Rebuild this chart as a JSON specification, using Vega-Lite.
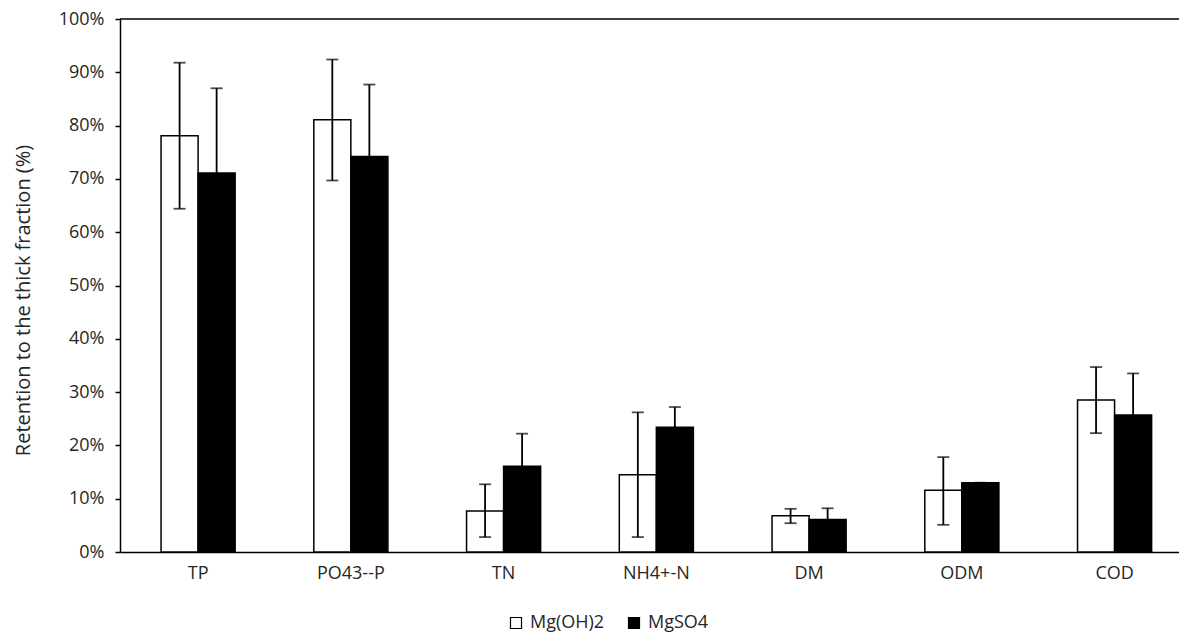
{
  "$schema": "https://vega.github.io/schema/vega-lite/v6.json",
  "autosize": "none",
  "width": 1059,
  "height": 533,
  "padding": {"left": 120, "top": 19, "right": 0, "bottom": 81},
  "background": "white",
  "config": {
    "view": {"stroke": null},
    "font": "Open Sans",
    "axis": {"labelFont": "Open Sans", "titleFont": "Open Sans", "labelColor": "#262626", "titleColor": "#262626"},
    "legend": {"labelFont": "Open Sans", "labelColor": "#262626"}
  },
  "datasets": {
    "table": [
      {"cat": "TP", "series": "Mg(OH)2", "value": 0.781, "lo": 0.644, "hi": 0.918},
      {"cat": "TP", "series": "MgSO4", "value": 0.711, "lo": 0.552, "hi": 0.870},
      {"cat": "PO43--P", "series": "Mg(OH)2", "value": 0.811, "lo": 0.697, "hi": 0.924},
      {"cat": "PO43--P", "series": "MgSO4", "value": 0.742, "lo": 0.607, "hi": 0.877},
      {"cat": "TN", "series": "Mg(OH)2", "value": 0.077, "lo": 0.028, "hi": 0.127},
      {"cat": "TN", "series": "MgSO4", "value": 0.161, "lo": 0.100, "hi": 0.222},
      {"cat": "NH4+-N", "series": "Mg(OH)2", "value": 0.145, "lo": 0.028, "hi": 0.262},
      {"cat": "NH4+-N", "series": "MgSO4", "value": 0.234, "lo": 0.196, "hi": 0.272},
      {"cat": "DM", "series": "Mg(OH)2", "value": 0.068, "lo": 0.054, "hi": 0.081},
      {"cat": "DM", "series": "MgSO4", "value": 0.061, "lo": 0.040, "hi": 0.082},
      {"cat": "ODM", "series": "Mg(OH)2", "value": 0.116, "lo": 0.051, "hi": 0.178},
      {"cat": "ODM", "series": "MgSO4", "value": 0.130, "lo": 0.128, "hi": 0.130},
      {"cat": "COD", "series": "Mg(OH)2", "value": 0.285, "lo": 0.223, "hi": 0.347},
      {"cat": "COD", "series": "MgSO4", "value": 0.257, "lo": 0.179, "hi": 0.335}
    ]
  },
  "layer": [
    {
      "data": {"name": "table"},
      "encoding": {
        "x": {
          "field": "cat", "type": "nominal",
          "sort": ["TP", "PO43--P", "TN", "NH4+-N", "DM", "ODM", "COD"],
          "scale": {"paddingInner": 0.515, "paddingOuter": 0.224, "align": 0.6},
          "axis": {"title": null, "labelAngle": 0, "ticks": false, "labelPadding": 12, "labelFontSize": 18, "domainColor": "#000000", "domainWidth": 1.5, "grid": false}
        },
        "xOffset": {"field": "series", "type": "nominal", "sort": ["Mg(OH)2", "MgSO4"], "scale": {"paddingInner": 0, "paddingOuter": 0}}
      },
      "layer": [
        {
          "mark": {"type": "bar", "stroke": "#000000", "strokeWidth": 1.5},
          "encoding": {
            "y": {
              "field": "value", "type": "quantitative",
              "scale": {"domain": [0, 1], "nice": false},
              "axis": {
                "title": "Retention to the thick fraction (%)",
                "format": ".0%",
                "values": [0, 0.1, 0.2, 0.3, 0.4, 0.5, 0.6, 0.7, 0.8, 0.9, 1],
                "grid": false,
                "tickSize": 5, "tickColor": "#000000", "tickWidth": 1.5,
                "domainColor": "#000000", "domainWidth": 1.5,
                "labelPadding": 11, "labelFontSize": 18,
                "titleFontSize": 20, "titleFontWeight": "normal",
                "titleX": -87, "titleY": 281, "titleAngle": -90, "titleAlign": "center", "titleBaseline": "bottom"
              }
            },
            "fill": {
              "field": "series", "type": "nominal",
              "sort": ["Mg(OH)2", "MgSO4"],
              "scale": {"domain": ["Mg(OH)2", "MgSO4"], "range": ["#ffffff", "#000000"]},
              "legend": {
                "title": null, "orient": "none", "direction": "horizontal",
                "legendX": 387, "legendY": 595,
                "symbolType": "square", "symbolSize": 121,
                "symbolStrokeColor": "#000000", "symbolStrokeWidth": 1.2,
                "labelFontSize": 18, "labelOffset": 5, "columnPadding": 20
              }
            }
          }
        },
        {
          "mark": {"type": "rule", "color": "#000000", "strokeWidth": 1.8},
          "encoding": {
            "y": {"field": "lo", "type": "quantitative"},
            "y2": {"field": "hi"}
          }
        },
        {
          "mark": {"type": "tick", "color": "#000000", "size": 12, "thickness": 1.8},
          "encoding": {"y": {"field": "lo", "type": "quantitative"}}
        },
        {
          "mark": {"type": "tick", "color": "#000000", "size": 12, "thickness": 1.8},
          "encoding": {"y": {"field": "hi", "type": "quantitative"}}
        }
      ]
    },
    {
      "data": {"values": [{}]},
      "mark": {"type": "rule", "color": "#000000", "strokeWidth": 1.5},
      "encoding": {"y": {"datum": 1, "type": "quantitative"}}
    }
  ]
}
